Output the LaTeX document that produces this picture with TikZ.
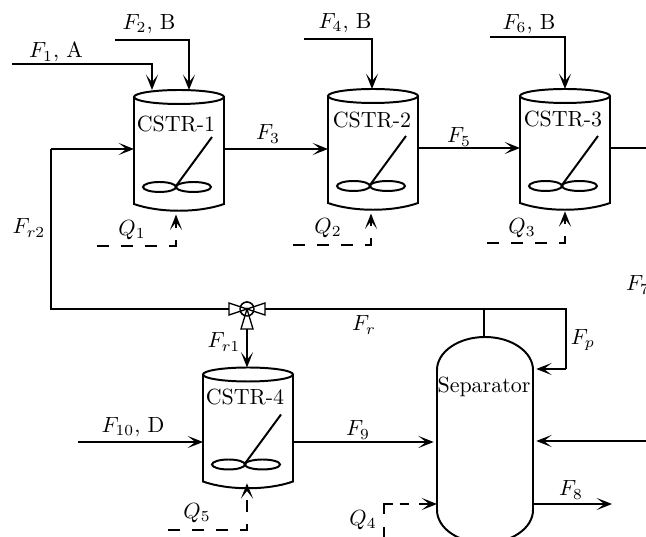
\documentclass[tikz,border=0pt]{standalone}
\usepackage{amsmath,amssymb}
\usepackage{xcolor}
\usepackage{tikz}
\usetikzlibrary{arrows.meta,calc}
\tikzset{
  pipe/.style={line width=0.85pt},
  feed/.style={pipe,-{Stealth[length=7pt,width=5.5pt,inset=3.5pt]}},
  heat/.style={feed,dash pattern=on 5.5pt off 5.5pt},
  outline/.style={line width=0.9pt},
  port/.style={
    rectangle,
    minimum width=1.44cm,
    minimum height=1.888cm,
    inner sep=0pt,
    outer sep=0pt
  },
  separator/.style={
    rectangle,
    minimum width=1.536cm,
    minimum height=3.296cm,
    inner sep=0pt,
    outer sep=0pt
  },
  valvecore/.style={
    draw,
    circle,
    line width=0.6pt,
    minimum size=0.224cm,
    inner sep=0pt
  },
  valvearm/.style={draw,fill=white,line width=0.6pt},
  tag/.style={inner sep=0pt}
}
\newcommand{\cstr}[3]{
  \begin{scope}[shift={(#2,#3)}]
    \node[port] (#1) at (0,0) {};
    \draw[outline] (0,-52) ellipse [x radius=45,y radius=7];
    \draw[outline] (-45,-52) -- (-45,55) .. controls (-20,64) and (20,64) .. (45,55) -- (45,-52);
    \draw[outline] (-19.5,38) ellipse [x radius=16.5,y radius=5];
    \draw[outline] (14.5,38) ellipse [x radius=17.5,y radius=5];
    \draw[outline] (-3,37) -- (33,-12);
  \end{scope}
}

\begin{document}
\begin{tikzpicture}[x=0.016cm,y=-0.016cm]
  \useasboundingbox (0,0) rectangle (646,537);
  \clip (0,0) rectangle (646,537);
  \cstr{tank1}{179}{149}
  \cstr{tank2}{373}{148}
  \cstr{tank3}{565}{148}
  \cstr{tank4}{248}{426.5}
  \node[tag] (name1) at (176,124) {CSTR-1};
  \node[tag] (name2) at (372,120) {CSTR-2};
  \node[tag] (name3) at (563,119) {CSTR-3};
  \node[tag] (name4) at (245,397) {CSTR-4};
  \node[separator] (sep) at (485,440) {};
  \draw[outline] (437,370) arc[start angle=180,end angle=360,x radius=48,y radius=33]
    -- (533,510) arc[start angle=0,end angle=180,x radius=48,y radius=33] -- cycle;
  \node[tag] (sepname) at (484,387) {Separator};
  \coordinate (f1start) at (12,64);
  \coordinate (f1turn) at (152,64);
  \coordinate (f2start) at (115,40);
  \coordinate (f2turn) at (189,40);
  \coordinate (f4start) at (304,39);
  \coordinate (f4turn) at (372,39);
  \coordinate (f6start) at (490,37);
  \coordinate (f6turn) at (565,37);
  \coordinate (f7start) at (650,441);
  \coordinate (f7out) at (650,148);
  \coordinate (f8end) at (612,504);
  \coordinate (f10start) at (78,442);
  \coordinate (f2rturn) at (51,309);
  \coordinate (f2rup) at (51,149);
  \coordinate (fpcorner) at (566,309);
  \coordinate (fpturn) at (566,369);
  \coordinate (sepjoin) at (484,309);
  \coordinate (q1start) at (97,246);
  \coordinate (q1turn) at (176,246);
  \coordinate (q2start) at (293,245);
  \coordinate (q2turn) at (371,245);
  \coordinate (q3start) at (487,243);
  \coordinate (q3turn) at (565,243);
  \coordinate (q5start) at (168,530);
  \coordinate (q5turn) at (247,530);
  \coordinate (q4start) at (384,537);
  \coordinate (q4turn) at (384,504);
  \node[valvecore] (valve) at (247,309) {};
  \coordinate (valveleft) at (229,309);
  \coordinate (valveright) at (265,309);
  \coordinate (valvedown) at (247,329);
  \draw[feed] (f1start) -- (f1turn) -- (f1turn |- tank1.north);
  \draw[feed] (f2start) -- (f2turn) -- (f2turn |- tank1.north);
  \draw[feed] (f4start) -- (f4turn) -- (f4turn |- tank2.north);
  \draw[feed] (f6start) -- (f6turn) -- (f6turn |- tank3.north);
  \draw[feed] (tank1.east) -- (tank1.east -| tank2.west);
  \draw[feed] (tank2.east) -- (tank3.west);
  \draw[pipe] (tank3.east) -- (f7out);
  \draw[pipe] (valveleft) -- (f2rturn) -- (f2rup);
  \draw[feed] (f2rup) -- (f2rup -| tank1.west);
  \draw[pipe] (valveright) -- (fpcorner) -- (fpturn);
  \draw[feed,shorten >=1.5pt] (fpturn) -- (sep.east |- fpturn);
  \draw[pipe] (sepjoin) -- (sepjoin |- sep.north);
  \draw[feed] (valvedown) -- (tank4.north -| valvedown);
  \draw[feed] (f10start) -- (f10start -| tank4.west);
  \draw[feed,shorten >=1.5pt] (tank4.east |- f10start) -- (sep.west |- f10start);
  \draw[feed,shorten >=1.5pt] (f7start) -- (sep.east |- f7start);
  \draw[feed] (sep.east |- f8end) -- (f8end);
  \draw[heat,shorten >=3pt] (q1start) -- (q1turn) -- (q1turn |- tank1.south);
  \draw[heat,shorten >=3pt] (q2start) -- (q2turn) -- (q2turn |- tank2.south);
  \draw[heat,shorten >=2pt] (q3start) -- (q3turn) -- (q3turn |- tank3.south);
  \draw[heat,shorten >=-1pt] (q5start) -- (q5turn) -- (q5turn |- tank4.south);
  \draw[feed,dash pattern=on 4.5pt off 6pt on 8.6pt off 3pt on 4.5pt off 4.5pt on 20pt] (q4start) -- (q4turn) -- (q4turn -| sep.west);
  \draw[valvearm] (valve.center) -- (229,303) -- (229,315) -- cycle;
  \draw[valvearm] (valve.center) -- (265,303) -- (265,315) -- cycle;
  \draw[valvearm] (valve.center) -- (241,329) -- (253,329) -- cycle;
  \node[valvecore] (valvering) at (valve.center) {};
  \node[tag] (lf1) at (56,52) {$F_1$, A};
  \node[tag] (lf2) at (149,24) {$F_2$, B};
  \node[tag] (lf3) at (268,134) {$F_3$};
  \node[tag] (lf4) at (345,23) {$F_4$, B};
  \node[tag] (lf5) at (459,137) {$F_5$};
  \node[tag] (lf6) at (529,24) {$F_6$, B};
  \node[tag] (lf7) at (638,285) {$F_7$};
  \node[tag] (lf8) at (571,490) {$F_8$};
  \node[tag] (lf9) at (358,430) {$F_9$};
  \node[tag] (lf10) at (133,427) {$F_{10}$, D};
  \node[tag] (lfr) at (364,325) {$F_r$};
  \node[tag] (lfp) at (583,340) {$F_p$};
  \node[tag] (lfr1) at (224,342) {$F_{r1}$};
  \node[tag] (lfr2) at (29,228) {$F_{r2}$};
  \node[tag] (lq1) at (132,230) {$Q_1$};
  \node[tag] (lq2) at (328,228) {$Q_2$};
  \node[tag] (lq3) at (522,228) {$Q_3$};
  \node[tag] (lq4) at (363,520) {$Q_4$};
  \node[tag] (lq5) at (197,513) {$Q_5$};
\end{tikzpicture}
\end{document}
